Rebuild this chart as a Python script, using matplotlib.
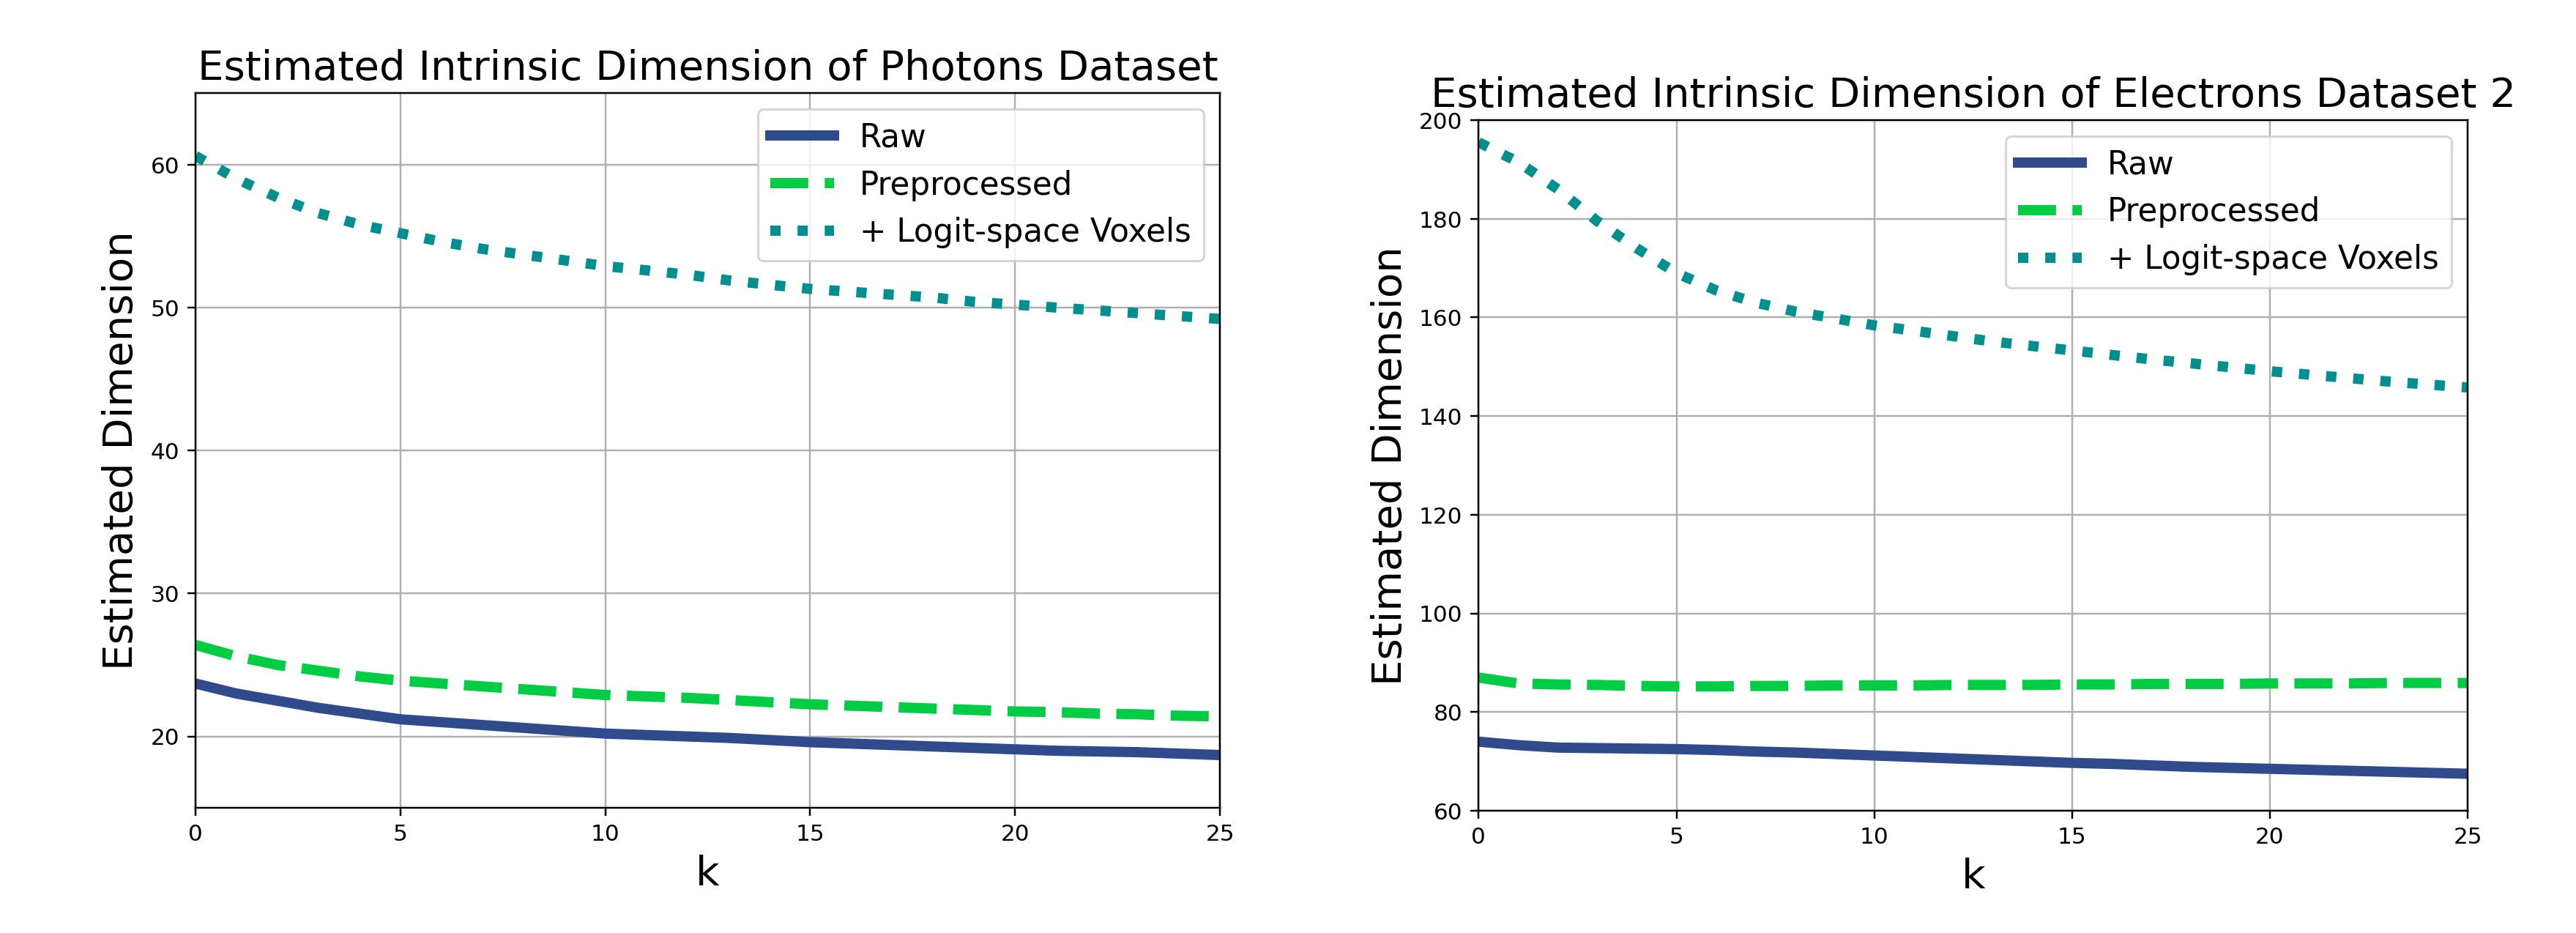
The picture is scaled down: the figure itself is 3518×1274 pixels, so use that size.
import matplotlib
matplotlib.use("Agg")
import matplotlib.pyplot as plt
import numpy as np

k = np.arange(0, 26)

# Photons dataset
photons_raw = [23.7, 23.0, 22.5, 22.0, 21.6, 21.2, 21.0, 20.8, 20.6, 20.4, 20.2,
               20.1, 20.0, 19.9, 19.75, 19.6, 19.5, 19.4, 19.3, 19.2, 19.1,
               19.0, 18.95, 18.9, 18.8, 18.7]
photons_pre = [26.4, 25.6, 25.0, 24.6, 24.2, 23.9, 23.7, 23.5, 23.3, 23.1, 22.9,
               22.8, 22.7, 22.55, 22.4, 22.25, 22.15, 22.05, 21.95, 21.85, 21.75,
               21.7, 21.6, 21.55, 21.45, 21.4]
photons_logit = [60.6, 59.0, 57.7, 56.6, 55.8, 55.2, 54.6, 54.1, 53.7, 53.3, 52.9,
                 52.6, 52.3, 51.9, 51.6, 51.3, 51.1, 50.9, 50.7, 50.4, 50.2,
                 50.0, 49.8, 49.6, 49.4, 49.2]

# Electrons dataset 2
electrons_raw = [74.0, 73.3, 72.8, 72.7, 72.6, 72.5, 72.3, 72.0, 71.8, 71.5, 71.2,
                 70.9, 70.6, 70.3, 70.0, 69.7, 69.5, 69.2, 68.9, 68.7, 68.5,
                 68.3, 68.1, 67.9, 67.7, 67.5]
electrons_pre = [87.0, 85.8, 85.6, 85.5, 85.3, 85.2, 85.2, 85.3, 85.3, 85.4, 85.4,
                 85.4, 85.5, 85.5, 85.5, 85.6, 85.6, 85.7, 85.7, 85.7, 85.8,
                 85.8, 85.8, 85.9, 85.9, 85.9]
electrons_logit = [195.5, 191.5, 186.0, 179.5, 174.0, 169.0, 165.5, 163.0, 161.2, 159.8, 158.4,
                   157.3, 156.2, 155.1, 154.2, 153.3, 152.4, 151.5, 150.7, 149.9, 149.1,
                   148.4, 147.7, 147.0, 146.4, 145.8]

labels = ["Raw", "Preprocessed", "+ Logit-space Voxels"]
colors = ["#2f4b8c", "#00cc44", "#008f8f"]
styles = ["-", "--", ":"]
lw = 4.5

fig = plt.figure(figsize=(15.68, 5.68), dpi=3518 / 15.68)

ax1 = fig.add_axes([0.0759, 0.134, 0.3977, 0.766])
ax2 = fig.add_axes([0.574, 0.131, 0.384, 0.740])

for ax, series, title, ylim in [
    (ax1, [photons_raw, photons_pre, photons_logit],
     "Estimated Intrinsic Dimension of Photons Dataset", (15, 65)),
    (ax2, [electrons_raw, electrons_pre, electrons_logit],
     "Estimated Intrinsic Dimension of Electrons Dataset 2", (60, 200)),
]:
    for y, lab, c, ls in zip(series, labels, colors, styles):
        ax.plot(k, y, ls, color=c, lw=lw, label=lab)
    ax.set_xlim(0, 25)
    ax.set_ylim(*ylim)
    ax.grid(True)
    ax.set_title(title, fontsize=18)
    ax.set_xlabel("k", fontsize=18)
    ax.set_ylabel("Estimated Dimension", fontsize=18)
    ax.tick_params(labelsize=10)
    ax.legend(loc="upper right", fontsize=14)

ax2.set_yticks(np.arange(60, 201, 20))

fig.savefig("out.png", dpi=3518 / 15.68)
